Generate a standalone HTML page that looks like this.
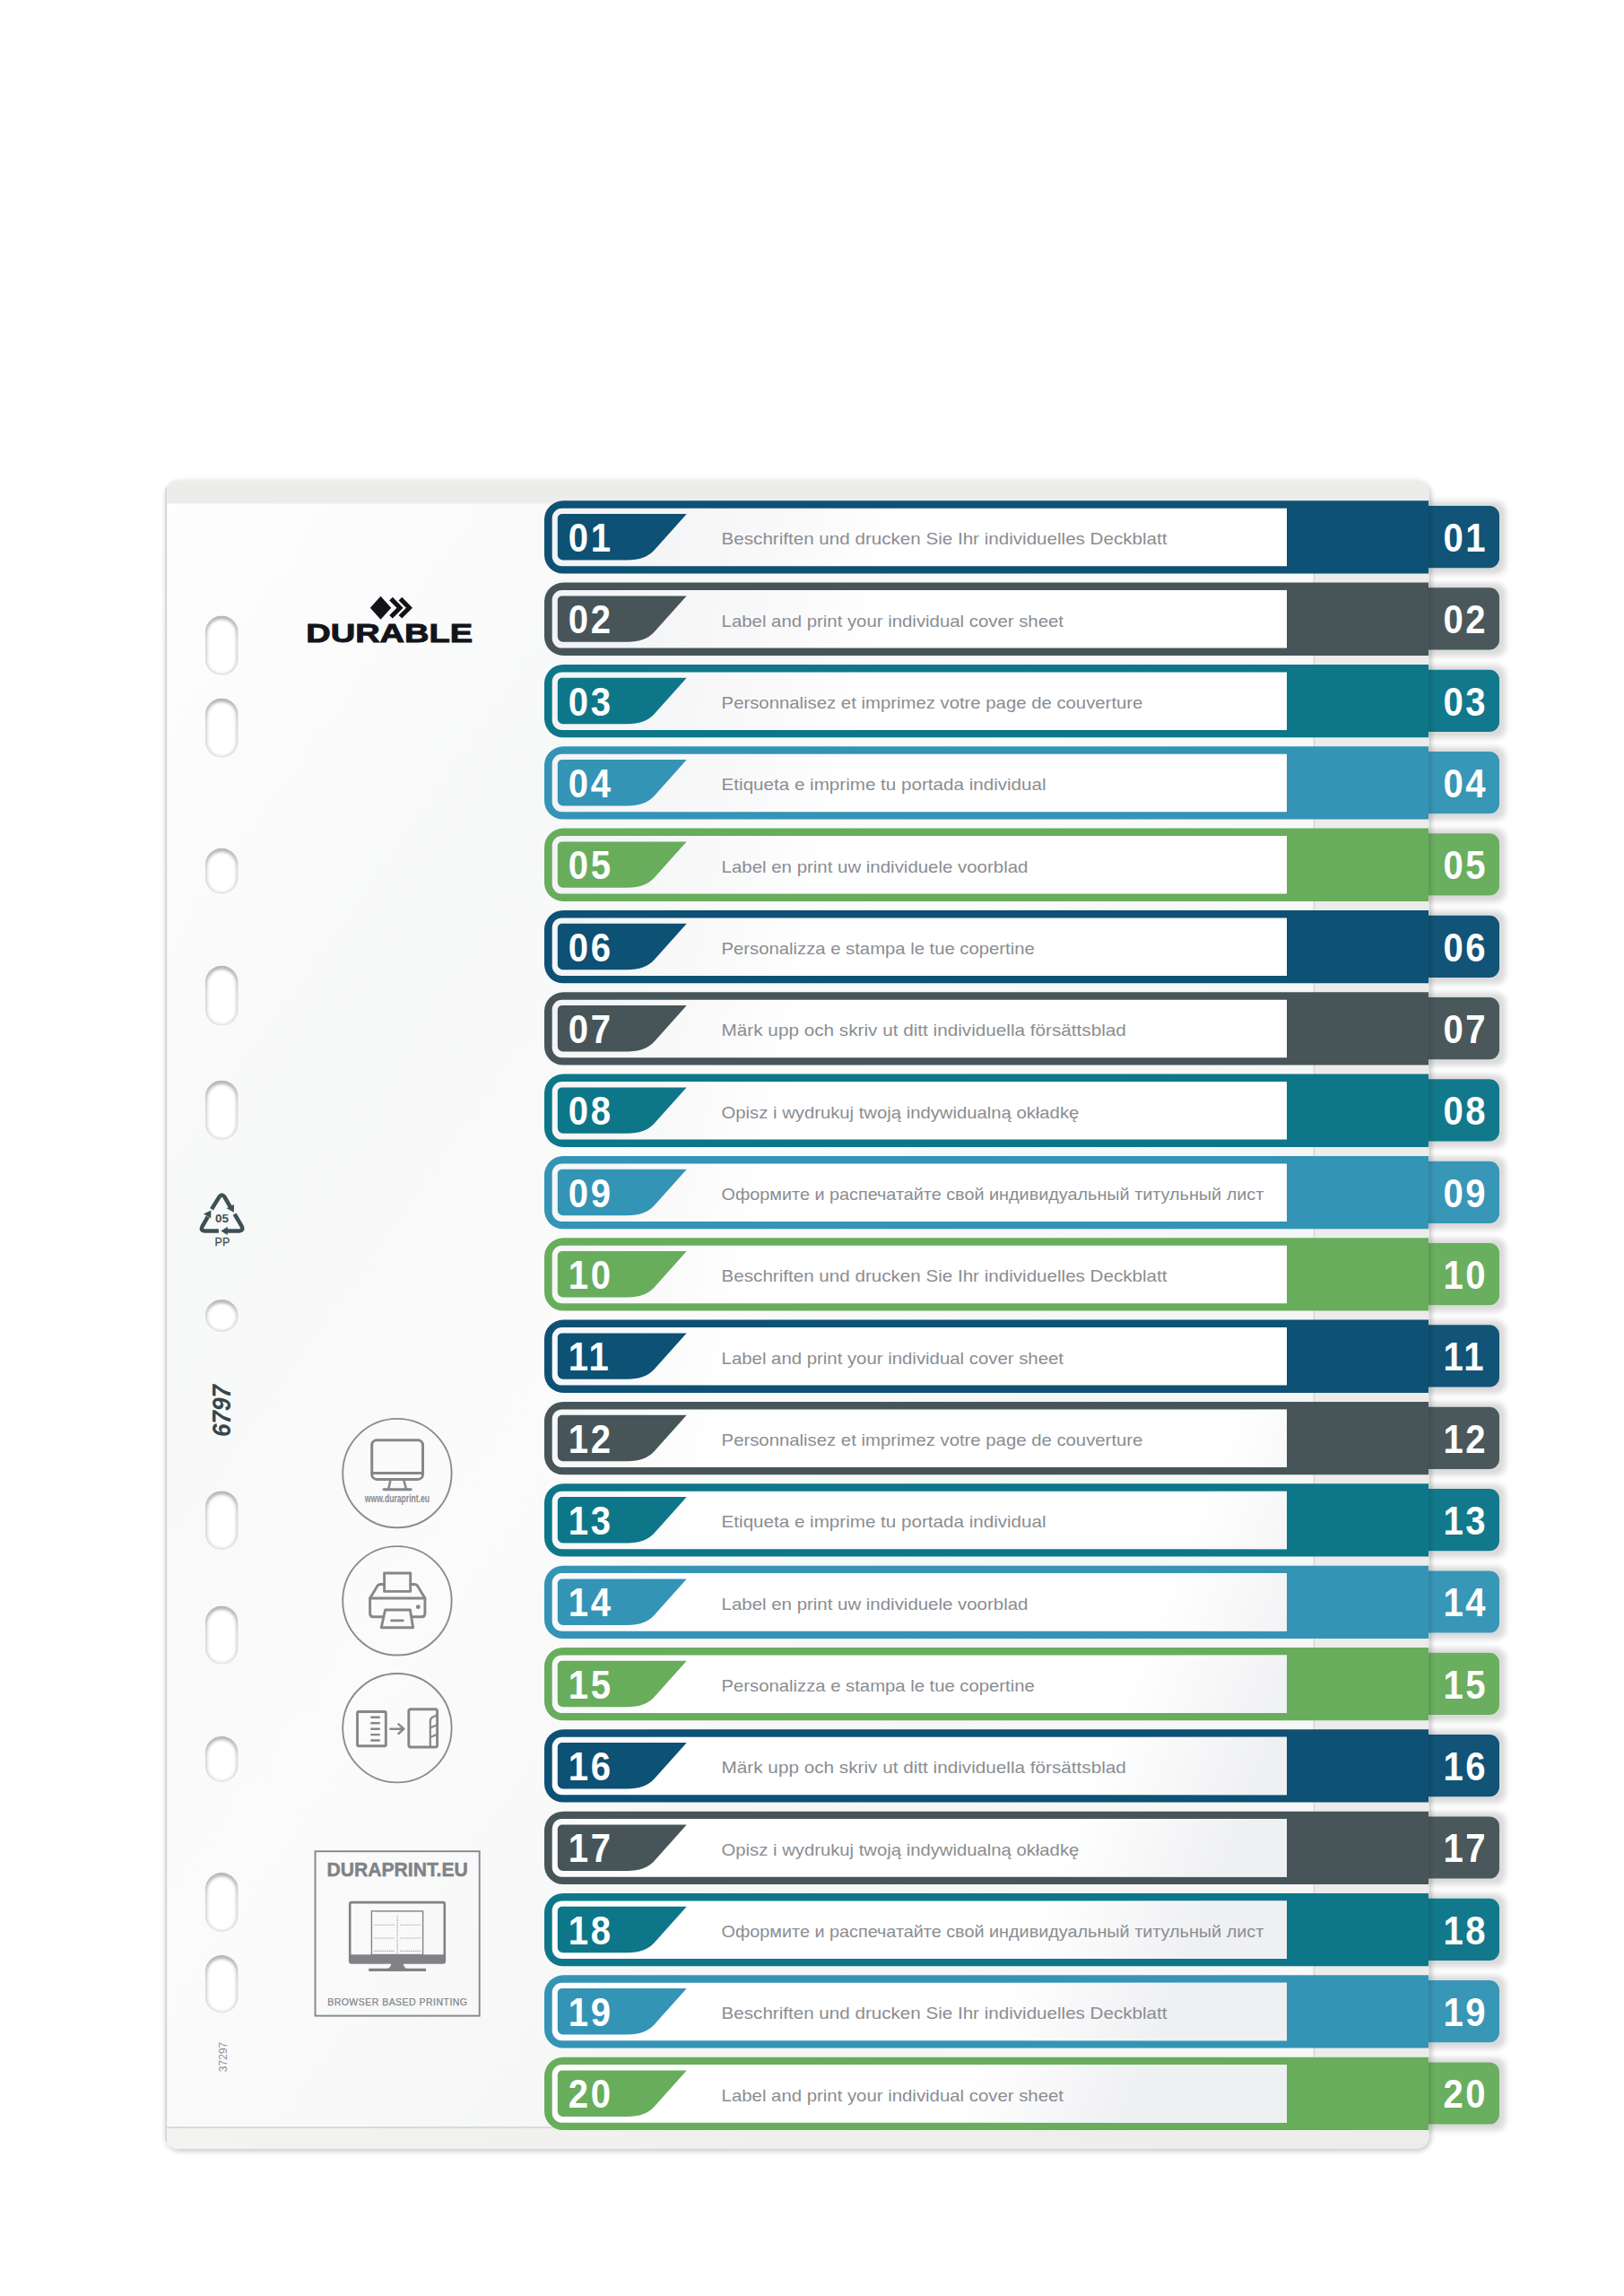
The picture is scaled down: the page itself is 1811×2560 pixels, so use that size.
<!DOCTYPE html>
<html lang="en">
<head>
<meta charset="utf-8">
<title>DURABLE index divider 6797 – DURAPRINT.EU</title>
<style>
html,body{margin:0;padding:0;background:#ffffff;}
body{width:1811px;height:2560px;overflow:hidden;}
svg{display:block;}
text{font-family:"Liberation Sans",sans-serif;}
.num{font-weight:700;font-size:44.5px;fill:#ffffff;}
.desc{font-size:18.2px;fill:#8a8d92;}
.ico{fill:none;stroke:#85878a;stroke-width:2.9;stroke-linejoin:round;stroke-linecap:round;}
</style>
</head>
<body>
<svg width="1811" height="2560" viewBox="0 0 1811 2560">
<defs>
  <filter id="shSheet" x="-5%" y="-5%" width="110%" height="110%">
    <feGaussianBlur in="SourceAlpha" stdDeviation="3.2"/>
    <feOffset dx="1.5" dy="1.5"/>
    <feComponentTransfer><feFuncA type="linear" slope="0.25"/></feComponentTransfer>
    <feMerge><feMergeNode/><feMergeNode in="SourceGraphic"/></feMerge>
  </filter>
  <filter id="shTab" x="-30%" y="-30%" width="160%" height="160%">
    <feMorphology in="SourceAlpha" operator="dilate" radius="5.5"/>
    <feGaussianBlur stdDeviation="3"/>
    <feOffset dx="0.8" dy="1.2"/>
    <feComponentTransfer><feFuncA type="linear" slope="0.15"/></feComponentTransfer>
    <feMerge><feMergeNode/><feMergeNode in="SourceGraphic"/></feMerge>
  </filter>
  <clipPath id="cTabs"><rect x="1593" y="400" width="200" height="2100"/></clipPath>
  <linearGradient id="gTabEdge" x1="0" y1="0" x2="1" y2="0">
    <stop offset="0" stop-color="#000000" stop-opacity="0.12"/>
    <stop offset="1" stop-color="#000000" stop-opacity="0"/>
  </linearGradient>
  <linearGradient id="gPage" x1="0" y1="0" x2="1" y2="1">
    <stop offset="0" stop-color="#fefefe"/>
    <stop offset="0.25" stop-color="#f7f8f8"/>
    <stop offset="0.45" stop-color="#fbfbfb"/>
    <stop offset="0.7" stop-color="#f5f6f6"/>
    <stop offset="1" stop-color="#f8f8f8"/>
  </linearGradient>
  <linearGradient id="gLabel" gradientUnits="userSpaceOnUse" x1="700" y1="0" x2="1853.8" y2="230.8">
    <stop offset="0" stop-color="#f1f2f3"/>
    <stop offset="0.10" stop-color="#f3f4f5"/>
    <stop offset="0.27" stop-color="#fafafb"/>
    <stop offset="0.35" stop-color="#ffffff"/>
    <stop offset="1" stop-color="#ffffff"/>
  </linearGradient>
  <linearGradient id="gSheen" gradientUnits="userSpaceOnUse" x1="1330" y1="1690" x2="1500" y2="1758">
    <stop offset="0" stop-color="#eff0f2" stop-opacity="0"/>
    <stop offset="1" stop-color="#eff0f2" stop-opacity="1"/>
  </linearGradient>
  <linearGradient id="gHole" x1="0" y1="0" x2="0" y2="1">
    <stop offset="0" stop-color="#b4b6b6"/>
    <stop offset="0.45" stop-color="#d4d5d5"/>
    <stop offset="1" stop-color="#dcdddd"/>
  </linearGradient>
  <linearGradient id="gEdge" x1="0" y1="0" x2="1" y2="0">
    <stop offset="0" stop-color="#e9e9e9"/>
    <stop offset="0.6" stop-color="#cfd0d0"/>
    <stop offset="1" stop-color="#f2f2f2"/>
  </linearGradient>
  <filter id="blHole" x="-30%" y="-30%" width="160%" height="160%"><feGaussianBlur stdDeviation="1.7"/></filter>
  <linearGradient id="gBot" x1="0" y1="0" x2="1" y2="0">
    <stop offset="0" stop-color="#f3f3f2"/><stop offset="0.5" stop-color="#efefee"/><stop offset="1" stop-color="#ececeb"/>
  </linearGradient>
  <clipPath id="cSheet"><rect x="183.5" y="535.5" width="1410" height="1860.5" rx="15" ry="15"/></clipPath>
</defs>

<g id="sheet">
<rect x="183.5" y="535.5" width="1410" height="1860.5" rx="15" ry="15" fill="#ececeb" filter="url(#shSheet)"/>
<rect x="186.2" y="561.5" width="1279.3" height="1810.5" fill="url(#gPage)"/>
<rect x="183.5" y="535.5" width="3" height="1860.5" fill="url(#gEdge)" clip-path="url(#cSheet)"/>
<rect x="186.2" y="2372" width="1407" height="24" fill="url(#gBot)" clip-path="url(#cSheet)"/>
<rect x="186.2" y="2371.2" width="1279.3" height="1.8" fill="#d6d7d7"/>
<rect x="1464.6" y="558" width="1.6" height="1814" fill="#d6d7d7"/>
</g>
<g id="holes">
<clipPath id="ch686"><rect x="228.8" y="686.5" width="36.8" height="66.3" rx="18.4" ry="18.4"/></clipPath><g clip-path="url(#ch686)"><rect x="228.8" y="686.5" width="36.8" height="66.3" fill="url(#gHole)"/><rect x="231.4" y="690.7" width="31.6" height="60.3" rx="15.8" ry="15.8" fill="#ffffff" filter="url(#blHole)"/></g>
<clipPath id="ch778"><rect x="228.8" y="778.5" width="36.8" height="66.2" rx="18.4" ry="18.4"/></clipPath><g clip-path="url(#ch778)"><rect x="228.8" y="778.5" width="36.8" height="66.2" fill="url(#gHole)"/><rect x="231.4" y="782.7" width="31.6" height="60.2" rx="15.8" ry="15.8" fill="#ffffff" filter="url(#blHole)"/></g>
<clipPath id="ch945"><rect x="228.8" y="945.8" width="36.8" height="50.9" rx="18.4" ry="18.4"/></clipPath><g clip-path="url(#ch945)"><rect x="228.8" y="945.8" width="36.8" height="50.9" fill="url(#gHole)"/><rect x="231.4" y="950.0" width="31.6" height="44.9" rx="15.8" ry="15.8" fill="#ffffff" filter="url(#blHole)"/></g>
<clipPath id="ch1076"><rect x="228.8" y="1076.8" width="36.8" height="66.9" rx="18.4" ry="18.4"/></clipPath><g clip-path="url(#ch1076)"><rect x="228.8" y="1076.8" width="36.8" height="66.9" fill="url(#gHole)"/><rect x="231.4" y="1081.0" width="31.6" height="60.9" rx="15.8" ry="15.8" fill="#ffffff" filter="url(#blHole)"/></g>
<clipPath id="ch1204"><rect x="228.8" y="1204.7" width="36.8" height="66.2" rx="18.4" ry="18.4"/></clipPath><g clip-path="url(#ch1204)"><rect x="228.8" y="1204.7" width="36.8" height="66.2" fill="url(#gHole)"/><rect x="231.4" y="1208.9" width="31.6" height="60.2" rx="15.8" ry="15.8" fill="#ffffff" filter="url(#blHole)"/></g>
<clipPath id="ch1449"><rect x="228.8" y="1449.0" width="36.8" height="36.0" rx="18.4" ry="18.4"/></clipPath><g clip-path="url(#ch1449)"><rect x="228.8" y="1449.0" width="36.8" height="36.0" fill="url(#gHole)"/><rect x="231.4" y="1453.2" width="31.6" height="30.0" rx="15.8" ry="15.8" fill="#ffffff" filter="url(#blHole)"/></g>
<clipPath id="ch1662"><rect x="228.8" y="1662.4" width="36.8" height="65.5" rx="18.4" ry="18.4"/></clipPath><g clip-path="url(#ch1662)"><rect x="228.8" y="1662.4" width="36.8" height="65.5" fill="url(#gHole)"/><rect x="231.4" y="1666.6" width="31.6" height="59.5" rx="15.8" ry="15.8" fill="#ffffff" filter="url(#blHole)"/></g>
<clipPath id="ch1790"><rect x="228.8" y="1790.6" width="36.8" height="65.1" rx="18.4" ry="18.4"/></clipPath><g clip-path="url(#ch1790)"><rect x="228.8" y="1790.6" width="36.8" height="65.1" fill="url(#gHole)"/><rect x="231.4" y="1794.8" width="31.6" height="59.1" rx="15.8" ry="15.8" fill="#ffffff" filter="url(#blHole)"/></g>
<clipPath id="ch1935"><rect x="228.8" y="1935.9" width="36.8" height="51.1" rx="18.4" ry="18.4"/></clipPath><g clip-path="url(#ch1935)"><rect x="228.8" y="1935.9" width="36.8" height="51.1" fill="url(#gHole)"/><rect x="231.4" y="1940.1" width="31.6" height="45.1" rx="15.8" ry="15.8" fill="#ffffff" filter="url(#blHole)"/></g>
<clipPath id="ch2088"><rect x="228.8" y="2088.0" width="36.8" height="66.0" rx="18.4" ry="18.4"/></clipPath><g clip-path="url(#ch2088)"><rect x="228.8" y="2088.0" width="36.8" height="66.0" fill="url(#gHole)"/><rect x="231.4" y="2092.2" width="31.6" height="60.0" rx="15.8" ry="15.8" fill="#ffffff" filter="url(#blHole)"/></g>
<clipPath id="ch2180"><rect x="228.8" y="2180.0" width="36.8" height="64.5" rx="18.4" ry="18.4"/></clipPath><g clip-path="url(#ch2180)"><rect x="228.8" y="2180.0" width="36.8" height="64.5" fill="url(#gHole)"/><rect x="231.4" y="2184.2" width="31.6" height="58.5" rx="15.8" ry="15.8" fill="#ffffff" filter="url(#blHole)"/></g>
</g>
<g id="tabs" clip-path="url(#cTabs)">
<path d="M1575 564.0 H1661.0 a11 11 0 0 1 11 11 V622.2 a11 11 0 0 1 -11 11 H1575 Z" fill="#0d5174" filter="url(#shTab)"/>
<path d="M1593 564.0 H1661.0 a11 11 0 0 1 11 11 V622.2 a11 11 0 0 1 -11 11 H1593 Z" fill="#ffffff" fill-opacity="0.018"/>
<rect x="1593" y="564.0" width="7" height="69.2" fill="url(#gTabEdge)"/>
<path d="M1575 655.3 H1661.0 a11 11 0 0 1 11 11 V713.5 a11 11 0 0 1 -11 11 H1575 Z" fill="#475559" filter="url(#shTab)"/>
<path d="M1593 655.3 H1661.0 a11 11 0 0 1 11 11 V713.5 a11 11 0 0 1 -11 11 H1593 Z" fill="#ffffff" fill-opacity="0.018"/>
<rect x="1593" y="655.3" width="7" height="69.2" fill="url(#gTabEdge)"/>
<path d="M1575 746.7 H1661.0 a11 11 0 0 1 11 11 V804.9 a11 11 0 0 1 -11 11 H1575 Z" fill="#0d7789" filter="url(#shTab)"/>
<path d="M1593 746.7 H1661.0 a11 11 0 0 1 11 11 V804.9 a11 11 0 0 1 -11 11 H1593 Z" fill="#ffffff" fill-opacity="0.018"/>
<rect x="1593" y="746.7" width="7" height="69.2" fill="url(#gTabEdge)"/>
<path d="M1575 838.0 H1661.0 a11 11 0 0 1 11 11 V896.2 a11 11 0 0 1 -11 11 H1575 Z" fill="#3494b6" filter="url(#shTab)"/>
<path d="M1593 838.0 H1661.0 a11 11 0 0 1 11 11 V896.2 a11 11 0 0 1 -11 11 H1593 Z" fill="#ffffff" fill-opacity="0.018"/>
<rect x="1593" y="838.0" width="7" height="69.2" fill="url(#gTabEdge)"/>
<path d="M1575 929.3 H1661.0 a11 11 0 0 1 11 11 V987.5 a11 11 0 0 1 -11 11 H1575 Z" fill="#68ad5c" filter="url(#shTab)"/>
<path d="M1593 929.3 H1661.0 a11 11 0 0 1 11 11 V987.5 a11 11 0 0 1 -11 11 H1593 Z" fill="#ffffff" fill-opacity="0.018"/>
<rect x="1593" y="929.3" width="7" height="69.2" fill="url(#gTabEdge)"/>
<path d="M1575 1020.7 H1661.0 a11 11 0 0 1 11 11 V1078.9 a11 11 0 0 1 -11 11 H1575 Z" fill="#0d5174" filter="url(#shTab)"/>
<path d="M1593 1020.7 H1661.0 a11 11 0 0 1 11 11 V1078.9 a11 11 0 0 1 -11 11 H1593 Z" fill="#ffffff" fill-opacity="0.018"/>
<rect x="1593" y="1020.7" width="7" height="69.2" fill="url(#gTabEdge)"/>
<path d="M1575 1112.0 H1661.0 a11 11 0 0 1 11 11 V1170.2 a11 11 0 0 1 -11 11 H1575 Z" fill="#475559" filter="url(#shTab)"/>
<path d="M1593 1112.0 H1661.0 a11 11 0 0 1 11 11 V1170.2 a11 11 0 0 1 -11 11 H1593 Z" fill="#ffffff" fill-opacity="0.018"/>
<rect x="1593" y="1112.0" width="7" height="69.2" fill="url(#gTabEdge)"/>
<path d="M1575 1203.3 H1661.0 a11 11 0 0 1 11 11 V1261.5 a11 11 0 0 1 -11 11 H1575 Z" fill="#0d7789" filter="url(#shTab)"/>
<path d="M1593 1203.3 H1661.0 a11 11 0 0 1 11 11 V1261.5 a11 11 0 0 1 -11 11 H1593 Z" fill="#ffffff" fill-opacity="0.018"/>
<rect x="1593" y="1203.3" width="7" height="69.2" fill="url(#gTabEdge)"/>
<path d="M1575 1294.7 H1661.0 a11 11 0 0 1 11 11 V1352.9 a11 11 0 0 1 -11 11 H1575 Z" fill="#3494b6" filter="url(#shTab)"/>
<path d="M1593 1294.7 H1661.0 a11 11 0 0 1 11 11 V1352.9 a11 11 0 0 1 -11 11 H1593 Z" fill="#ffffff" fill-opacity="0.018"/>
<rect x="1593" y="1294.7" width="7" height="69.2" fill="url(#gTabEdge)"/>
<path d="M1575 1386.0 H1661.0 a11 11 0 0 1 11 11 V1444.2 a11 11 0 0 1 -11 11 H1575 Z" fill="#68ad5c" filter="url(#shTab)"/>
<path d="M1593 1386.0 H1661.0 a11 11 0 0 1 11 11 V1444.2 a11 11 0 0 1 -11 11 H1593 Z" fill="#ffffff" fill-opacity="0.018"/>
<rect x="1593" y="1386.0" width="7" height="69.2" fill="url(#gTabEdge)"/>
<path d="M1575 1477.3 H1661.0 a11 11 0 0 1 11 11 V1535.5 a11 11 0 0 1 -11 11 H1575 Z" fill="#0d5174" filter="url(#shTab)"/>
<path d="M1593 1477.3 H1661.0 a11 11 0 0 1 11 11 V1535.5 a11 11 0 0 1 -11 11 H1593 Z" fill="#ffffff" fill-opacity="0.018"/>
<rect x="1593" y="1477.3" width="7" height="69.2" fill="url(#gTabEdge)"/>
<path d="M1575 1568.7 H1661.0 a11 11 0 0 1 11 11 V1626.9 a11 11 0 0 1 -11 11 H1575 Z" fill="#475559" filter="url(#shTab)"/>
<path d="M1593 1568.7 H1661.0 a11 11 0 0 1 11 11 V1626.9 a11 11 0 0 1 -11 11 H1593 Z" fill="#ffffff" fill-opacity="0.018"/>
<rect x="1593" y="1568.7" width="7" height="69.2" fill="url(#gTabEdge)"/>
<path d="M1575 1660.0 H1661.0 a11 11 0 0 1 11 11 V1718.2 a11 11 0 0 1 -11 11 H1575 Z" fill="#0d7789" filter="url(#shTab)"/>
<path d="M1593 1660.0 H1661.0 a11 11 0 0 1 11 11 V1718.2 a11 11 0 0 1 -11 11 H1593 Z" fill="#ffffff" fill-opacity="0.018"/>
<rect x="1593" y="1660.0" width="7" height="69.2" fill="url(#gTabEdge)"/>
<path d="M1575 1751.4 H1661.0 a11 11 0 0 1 11 11 V1809.6 a11 11 0 0 1 -11 11 H1575 Z" fill="#3494b6" filter="url(#shTab)"/>
<path d="M1593 1751.4 H1661.0 a11 11 0 0 1 11 11 V1809.6 a11 11 0 0 1 -11 11 H1593 Z" fill="#ffffff" fill-opacity="0.018"/>
<rect x="1593" y="1751.4" width="7" height="69.2" fill="url(#gTabEdge)"/>
<path d="M1575 1842.7 H1661.0 a11 11 0 0 1 11 11 V1900.9 a11 11 0 0 1 -11 11 H1575 Z" fill="#68ad5c" filter="url(#shTab)"/>
<path d="M1593 1842.7 H1661.0 a11 11 0 0 1 11 11 V1900.9 a11 11 0 0 1 -11 11 H1593 Z" fill="#ffffff" fill-opacity="0.018"/>
<rect x="1593" y="1842.7" width="7" height="69.2" fill="url(#gTabEdge)"/>
<path d="M1575 1934.0 H1661.0 a11 11 0 0 1 11 11 V1992.2 a11 11 0 0 1 -11 11 H1575 Z" fill="#0d5174" filter="url(#shTab)"/>
<path d="M1593 1934.0 H1661.0 a11 11 0 0 1 11 11 V1992.2 a11 11 0 0 1 -11 11 H1593 Z" fill="#ffffff" fill-opacity="0.018"/>
<rect x="1593" y="1934.0" width="7" height="69.2" fill="url(#gTabEdge)"/>
<path d="M1575 2025.4 H1661.0 a11 11 0 0 1 11 11 V2083.6 a11 11 0 0 1 -11 11 H1575 Z" fill="#475559" filter="url(#shTab)"/>
<path d="M1593 2025.4 H1661.0 a11 11 0 0 1 11 11 V2083.6 a11 11 0 0 1 -11 11 H1593 Z" fill="#ffffff" fill-opacity="0.018"/>
<rect x="1593" y="2025.4" width="7" height="69.2" fill="url(#gTabEdge)"/>
<path d="M1575 2116.7 H1661.0 a11 11 0 0 1 11 11 V2174.9 a11 11 0 0 1 -11 11 H1575 Z" fill="#0d7789" filter="url(#shTab)"/>
<path d="M1593 2116.7 H1661.0 a11 11 0 0 1 11 11 V2174.9 a11 11 0 0 1 -11 11 H1593 Z" fill="#ffffff" fill-opacity="0.018"/>
<rect x="1593" y="2116.7" width="7" height="69.2" fill="url(#gTabEdge)"/>
<path d="M1575 2208.0 H1661.0 a11 11 0 0 1 11 11 V2266.2 a11 11 0 0 1 -11 11 H1575 Z" fill="#3494b6" filter="url(#shTab)"/>
<path d="M1593 2208.0 H1661.0 a11 11 0 0 1 11 11 V2266.2 a11 11 0 0 1 -11 11 H1593 Z" fill="#ffffff" fill-opacity="0.018"/>
<rect x="1593" y="2208.0" width="7" height="69.2" fill="url(#gTabEdge)"/>
<path d="M1575 2299.4 H1661.0 a11 11 0 0 1 11 11 V2357.6 a11 11 0 0 1 -11 11 H1575 Z" fill="#68ad5c" filter="url(#shTab)"/>
<path d="M1593 2299.4 H1661.0 a11 11 0 0 1 11 11 V2357.6 a11 11 0 0 1 -11 11 H1593 Z" fill="#ffffff" fill-opacity="0.018"/>
<rect x="1593" y="2299.4" width="7" height="69.2" fill="url(#gTabEdge)"/>
</g>
<g id="rows">
<g id="row01">
<path d="M628.0 558.3 H1593.0 V639.6 H628.0 a21 21 0 0 1 -21 -21 V579.3 a21 21 0 0 1 21 -21 Z" fill="#0d5174"/>
<path d="M626.7 566.7 H1435.0 V631.3 H626.7 a11 11 0 0 1 -11 -11 V577.7 a11 11 0 0 1 11 -11 Z" fill="url(#gLabel)"/>
<path d="M626.8 573.1 H765.7 L729.5 613.5 Q719.5 624.5 699.5 624.5 H627.8 a6 6 0 0 1 -6 -6 V578.1 a5 5 0 0 1 5 -5 Z" fill="#0d5174"/>
<text class="num" transform="translate(633.8 615.0) scale(0.9 1)" letter-spacing="3">01</text>
<text class="desc" x="804.6" y="607.2" textLength="496.9" lengthAdjust="spacingAndGlyphs">Beschriften und drucken Sie Ihr individuelles Deckblatt</text>
<text class="num" transform="translate(1609.4 615.0) scale(0.9 1)" letter-spacing="3">01</text>
</g>
<g id="row02">
<path d="M628.0 649.6 H1593.0 V730.9 H628.0 a21 21 0 0 1 -21 -21 V670.6 a21 21 0 0 1 21 -21 Z" fill="#475559"/>
<path d="M626.7 658.0 H1435.0 V722.6 H626.7 a11 11 0 0 1 -11 -11 V669.0 a11 11 0 0 1 11 -11 Z" fill="url(#gLabel)"/>
<path d="M626.8 664.4 H765.7 L729.5 704.8 Q719.5 715.8 699.5 715.8 H627.8 a6 6 0 0 1 -6 -6 V669.4 a5 5 0 0 1 5 -5 Z" fill="#475559"/>
<text class="num" transform="translate(633.8 706.3) scale(0.9 1)" letter-spacing="3">02</text>
<text class="desc" x="804.6" y="698.5" textLength="381.4" lengthAdjust="spacingAndGlyphs">Label and print your individual cover sheet</text>
<text class="num" transform="translate(1609.4 706.3) scale(0.9 1)" letter-spacing="3">02</text>
</g>
<g id="row03">
<path d="M628.0 741.0 H1593.0 V822.3 H628.0 a21 21 0 0 1 -21 -21 V762.0 a21 21 0 0 1 21 -21 Z" fill="#0d7789"/>
<path d="M626.7 749.4 H1435.0 V814.0 H626.7 a11 11 0 0 1 -11 -11 V760.4 a11 11 0 0 1 11 -11 Z" fill="url(#gLabel)"/>
<path d="M626.8 755.8 H765.7 L729.5 796.2 Q719.5 807.2 699.5 807.2 H627.8 a6 6 0 0 1 -6 -6 V760.8 a5 5 0 0 1 5 -5 Z" fill="#0d7789"/>
<text class="num" transform="translate(633.8 797.7) scale(0.9 1)" letter-spacing="3">03</text>
<text class="desc" x="804.6" y="789.9" textLength="469.8" lengthAdjust="spacingAndGlyphs">Personnalisez et imprimez votre page de couverture</text>
<text class="num" transform="translate(1609.4 797.7) scale(0.9 1)" letter-spacing="3">03</text>
</g>
<g id="row04">
<path d="M628.0 832.3 H1593.0 V913.6 H628.0 a21 21 0 0 1 -21 -21 V853.3 a21 21 0 0 1 21 -21 Z" fill="#3494b6"/>
<path d="M626.7 840.7 H1435.0 V905.3 H626.7 a11 11 0 0 1 -11 -11 V851.7 a11 11 0 0 1 11 -11 Z" fill="url(#gLabel)"/>
<path d="M626.8 847.1 H765.7 L729.5 887.5 Q719.5 898.5 699.5 898.5 H627.8 a6 6 0 0 1 -6 -6 V852.1 a5 5 0 0 1 5 -5 Z" fill="#3494b6"/>
<text class="num" transform="translate(633.8 889.0) scale(0.9 1)" letter-spacing="3">04</text>
<text class="desc" x="804.6" y="881.2" textLength="362.0" lengthAdjust="spacingAndGlyphs">Etiqueta e imprime tu portada individual</text>
<text class="num" transform="translate(1609.4 889.0) scale(0.9 1)" letter-spacing="3">04</text>
</g>
<g id="row05">
<path d="M628.0 923.6 H1593.0 V1004.9 H628.0 a21 21 0 0 1 -21 -21 V944.6 a21 21 0 0 1 21 -21 Z" fill="#68ad5c"/>
<path d="M626.7 932.0 H1435.0 V996.6 H626.7 a11 11 0 0 1 -11 -11 V943.0 a11 11 0 0 1 11 -11 Z" fill="url(#gLabel)"/>
<path d="M626.8 938.4 H765.7 L729.5 978.8 Q719.5 989.8 699.5 989.8 H627.8 a6 6 0 0 1 -6 -6 V943.4 a5 5 0 0 1 5 -5 Z" fill="#68ad5c"/>
<text class="num" transform="translate(633.8 980.3) scale(0.9 1)" letter-spacing="3">05</text>
<text class="desc" x="804.6" y="972.5" textLength="341.8" lengthAdjust="spacingAndGlyphs">Label en print uw individuele voorblad</text>
<text class="num" transform="translate(1609.4 980.3) scale(0.9 1)" letter-spacing="3">05</text>
</g>
<g id="row06">
<path d="M628.0 1015.0 H1593.0 V1096.3 H628.0 a21 21 0 0 1 -21 -21 V1036.0 a21 21 0 0 1 21 -21 Z" fill="#0d5174"/>
<path d="M626.7 1023.4 H1435.0 V1088.0 H626.7 a11 11 0 0 1 -11 -11 V1034.4 a11 11 0 0 1 11 -11 Z" fill="url(#gLabel)"/>
<path d="M626.8 1029.8 H765.7 L729.5 1070.2 Q719.5 1081.2 699.5 1081.2 H627.8 a6 6 0 0 1 -6 -6 V1034.8 a5 5 0 0 1 5 -5 Z" fill="#0d5174"/>
<text class="num" transform="translate(633.8 1071.7) scale(0.9 1)" letter-spacing="3">06</text>
<text class="desc" x="804.6" y="1063.9" textLength="349.1" lengthAdjust="spacingAndGlyphs">Personalizza e stampa le tue copertine</text>
<text class="num" transform="translate(1609.4 1071.7) scale(0.9 1)" letter-spacing="3">06</text>
</g>
<g id="row07">
<path d="M628.0 1106.3 H1593.0 V1187.6 H628.0 a21 21 0 0 1 -21 -21 V1127.3 a21 21 0 0 1 21 -21 Z" fill="#475559"/>
<path d="M626.7 1114.7 H1435.0 V1179.3 H626.7 a11 11 0 0 1 -11 -11 V1125.7 a11 11 0 0 1 11 -11 Z" fill="url(#gLabel)"/>
<path d="M626.8 1121.1 H765.7 L729.5 1161.5 Q719.5 1172.5 699.5 1172.5 H627.8 a6 6 0 0 1 -6 -6 V1126.1 a5 5 0 0 1 5 -5 Z" fill="#475559"/>
<text class="num" transform="translate(633.8 1163.0) scale(0.9 1)" letter-spacing="3">07</text>
<text class="desc" x="804.6" y="1155.2" textLength="451.3" lengthAdjust="spacingAndGlyphs">Märk upp och skriv ut ditt individuella försättsblad</text>
<text class="num" transform="translate(1609.4 1163.0) scale(0.9 1)" letter-spacing="3">07</text>
</g>
<g id="row08">
<path d="M628.0 1197.6 H1593.0 V1278.9 H628.0 a21 21 0 0 1 -21 -21 V1218.6 a21 21 0 0 1 21 -21 Z" fill="#0d7789"/>
<path d="M626.7 1206.0 H1435.0 V1270.6 H626.7 a11 11 0 0 1 -11 -11 V1217.0 a11 11 0 0 1 11 -11 Z" fill="url(#gLabel)"/>
<path d="M626.8 1212.4 H765.7 L729.5 1252.8 Q719.5 1263.8 699.5 1263.8 H627.8 a6 6 0 0 1 -6 -6 V1217.4 a5 5 0 0 1 5 -5 Z" fill="#0d7789"/>
<text class="num" transform="translate(633.8 1254.3) scale(0.9 1)" letter-spacing="3">08</text>
<text class="desc" x="804.6" y="1246.5" textLength="398.7" lengthAdjust="spacingAndGlyphs">Opisz i wydrukuj twoją indywidualną okładkę</text>
<text class="num" transform="translate(1609.4 1254.3) scale(0.9 1)" letter-spacing="3">08</text>
</g>
<g id="row09">
<path d="M628.0 1289.0 H1593.0 V1370.3 H628.0 a21 21 0 0 1 -21 -21 V1310.0 a21 21 0 0 1 21 -21 Z" fill="#3494b6"/>
<path d="M626.7 1297.4 H1435.0 V1362.0 H626.7 a11 11 0 0 1 -11 -11 V1308.4 a11 11 0 0 1 11 -11 Z" fill="url(#gLabel)"/>
<path d="M626.8 1303.8 H765.7 L729.5 1344.2 Q719.5 1355.2 699.5 1355.2 H627.8 a6 6 0 0 1 -6 -6 V1308.8 a5 5 0 0 1 5 -5 Z" fill="#3494b6"/>
<text class="num" transform="translate(633.8 1345.7) scale(0.9 1)" letter-spacing="3">09</text>
<text class="desc" x="804.6" y="1337.9" textLength="604.7" lengthAdjust="spacingAndGlyphs">Оформите и распечатайте свой индивидуальный титульный лист</text>
<text class="num" transform="translate(1609.4 1345.7) scale(0.9 1)" letter-spacing="3">09</text>
</g>
<g id="row10">
<path d="M628.0 1380.3 H1593.0 V1461.6 H628.0 a21 21 0 0 1 -21 -21 V1401.3 a21 21 0 0 1 21 -21 Z" fill="#68ad5c"/>
<path d="M626.7 1388.7 H1435.0 V1453.3 H626.7 a11 11 0 0 1 -11 -11 V1399.7 a11 11 0 0 1 11 -11 Z" fill="url(#gLabel)"/>
<path d="M626.8 1395.1 H765.7 L729.5 1435.5 Q719.5 1446.5 699.5 1446.5 H627.8 a6 6 0 0 1 -6 -6 V1400.1 a5 5 0 0 1 5 -5 Z" fill="#68ad5c"/>
<text class="num" transform="translate(633.8 1437.0) scale(0.9 1)" letter-spacing="3">10</text>
<text class="desc" x="804.6" y="1429.2" textLength="496.9" lengthAdjust="spacingAndGlyphs">Beschriften und drucken Sie Ihr individuelles Deckblatt</text>
<text class="num" transform="translate(1609.4 1437.0) scale(0.9 1)" letter-spacing="3">10</text>
</g>
<g id="row11">
<path d="M628.0 1471.6 H1593.0 V1552.9 H628.0 a21 21 0 0 1 -21 -21 V1492.6 a21 21 0 0 1 21 -21 Z" fill="#0d5174"/>
<path d="M626.7 1480.0 H1435.0 V1544.6 H626.7 a11 11 0 0 1 -11 -11 V1491.0 a11 11 0 0 1 11 -11 Z" fill="url(#gLabel)"/>
<path d="M626.8 1486.4 H765.7 L729.5 1526.8 Q719.5 1537.8 699.5 1537.8 H627.8 a6 6 0 0 1 -6 -6 V1491.4 a5 5 0 0 1 5 -5 Z" fill="#0d5174"/>
<text class="num" transform="translate(633.8 1528.3) scale(0.9 1)" letter-spacing="3">11</text>
<text class="desc" x="804.6" y="1520.5" textLength="381.4" lengthAdjust="spacingAndGlyphs">Label and print your individual cover sheet</text>
<text class="num" transform="translate(1609.4 1528.3) scale(0.9 1)" letter-spacing="3">11</text>
</g>
<g id="row12">
<path d="M628.0 1563.0 H1593.0 V1644.3 H628.0 a21 21 0 0 1 -21 -21 V1584.0 a21 21 0 0 1 21 -21 Z" fill="#475559"/>
<path d="M626.7 1571.4 H1435.0 V1636.0 H626.7 a11 11 0 0 1 -11 -11 V1582.4 a11 11 0 0 1 11 -11 Z" fill="url(#gLabel)"/>
<path d="M626.7 1571.4 H1435.0 V1636.0 H626.7 a11 11 0 0 1 -11 -11 V1582.4 a11 11 0 0 1 11 -11 Z" fill="url(#gSheen)"/>
<path d="M626.8 1577.8 H765.7 L729.5 1618.2 Q719.5 1629.2 699.5 1629.2 H627.8 a6 6 0 0 1 -6 -6 V1582.8 a5 5 0 0 1 5 -5 Z" fill="#475559"/>
<text class="num" transform="translate(633.8 1619.7) scale(0.9 1)" letter-spacing="3">12</text>
<text class="desc" x="804.6" y="1611.9" textLength="469.8" lengthAdjust="spacingAndGlyphs">Personnalisez et imprimez votre page de couverture</text>
<text class="num" transform="translate(1609.4 1619.7) scale(0.9 1)" letter-spacing="3">12</text>
</g>
<g id="row13">
<path d="M628.0 1654.3 H1593.0 V1735.6 H628.0 a21 21 0 0 1 -21 -21 V1675.3 a21 21 0 0 1 21 -21 Z" fill="#0d7789"/>
<path d="M626.7 1662.7 H1435.0 V1727.3 H626.7 a11 11 0 0 1 -11 -11 V1673.7 a11 11 0 0 1 11 -11 Z" fill="url(#gLabel)"/>
<path d="M626.7 1662.7 H1435.0 V1727.3 H626.7 a11 11 0 0 1 -11 -11 V1673.7 a11 11 0 0 1 11 -11 Z" fill="url(#gSheen)"/>
<path d="M626.8 1669.1 H765.7 L729.5 1709.5 Q719.5 1720.5 699.5 1720.5 H627.8 a6 6 0 0 1 -6 -6 V1674.1 a5 5 0 0 1 5 -5 Z" fill="#0d7789"/>
<text class="num" transform="translate(633.8 1711.0) scale(0.9 1)" letter-spacing="3">13</text>
<text class="desc" x="804.6" y="1703.2" textLength="362.0" lengthAdjust="spacingAndGlyphs">Etiqueta e imprime tu portada individual</text>
<text class="num" transform="translate(1609.4 1711.0) scale(0.9 1)" letter-spacing="3">13</text>
</g>
<g id="row14">
<path d="M628.0 1745.7 H1593.0 V1827.0 H628.0 a21 21 0 0 1 -21 -21 V1766.7 a21 21 0 0 1 21 -21 Z" fill="#3494b6"/>
<path d="M626.7 1754.1 H1435.0 V1818.7 H626.7 a11 11 0 0 1 -11 -11 V1765.1 a11 11 0 0 1 11 -11 Z" fill="url(#gLabel)"/>
<path d="M626.7 1754.1 H1435.0 V1818.7 H626.7 a11 11 0 0 1 -11 -11 V1765.1 a11 11 0 0 1 11 -11 Z" fill="url(#gSheen)"/>
<path d="M626.8 1760.5 H765.7 L729.5 1800.9 Q719.5 1811.9 699.5 1811.9 H627.8 a6 6 0 0 1 -6 -6 V1765.5 a5 5 0 0 1 5 -5 Z" fill="#3494b6"/>
<text class="num" transform="translate(633.8 1802.4) scale(0.9 1)" letter-spacing="3">14</text>
<text class="desc" x="804.6" y="1794.6" textLength="341.8" lengthAdjust="spacingAndGlyphs">Label en print uw individuele voorblad</text>
<text class="num" transform="translate(1609.4 1802.4) scale(0.9 1)" letter-spacing="3">14</text>
</g>
<g id="row15">
<path d="M628.0 1837.0 H1593.0 V1918.3 H628.0 a21 21 0 0 1 -21 -21 V1858.0 a21 21 0 0 1 21 -21 Z" fill="#68ad5c"/>
<path d="M626.7 1845.4 H1435.0 V1910.0 H626.7 a11 11 0 0 1 -11 -11 V1856.4 a11 11 0 0 1 11 -11 Z" fill="url(#gLabel)"/>
<path d="M626.7 1845.4 H1435.0 V1910.0 H626.7 a11 11 0 0 1 -11 -11 V1856.4 a11 11 0 0 1 11 -11 Z" fill="url(#gSheen)"/>
<path d="M626.8 1851.8 H765.7 L729.5 1892.2 Q719.5 1903.2 699.5 1903.2 H627.8 a6 6 0 0 1 -6 -6 V1856.8 a5 5 0 0 1 5 -5 Z" fill="#68ad5c"/>
<text class="num" transform="translate(633.8 1893.7) scale(0.9 1)" letter-spacing="3">15</text>
<text class="desc" x="804.6" y="1885.9" textLength="349.1" lengthAdjust="spacingAndGlyphs">Personalizza e stampa le tue copertine</text>
<text class="num" transform="translate(1609.4 1893.7) scale(0.9 1)" letter-spacing="3">15</text>
</g>
<g id="row16">
<path d="M628.0 1928.3 H1593.0 V2009.6 H628.0 a21 21 0 0 1 -21 -21 V1949.3 a21 21 0 0 1 21 -21 Z" fill="#0d5174"/>
<path d="M626.7 1936.7 H1435.0 V2001.3 H626.7 a11 11 0 0 1 -11 -11 V1947.7 a11 11 0 0 1 11 -11 Z" fill="url(#gLabel)"/>
<path d="M626.7 1936.7 H1435.0 V2001.3 H626.7 a11 11 0 0 1 -11 -11 V1947.7 a11 11 0 0 1 11 -11 Z" fill="url(#gSheen)"/>
<path d="M626.8 1943.1 H765.7 L729.5 1983.5 Q719.5 1994.5 699.5 1994.5 H627.8 a6 6 0 0 1 -6 -6 V1948.1 a5 5 0 0 1 5 -5 Z" fill="#0d5174"/>
<text class="num" transform="translate(633.8 1985.0) scale(0.9 1)" letter-spacing="3">16</text>
<text class="desc" x="804.6" y="1977.2" textLength="451.3" lengthAdjust="spacingAndGlyphs">Märk upp och skriv ut ditt individuella försättsblad</text>
<text class="num" transform="translate(1609.4 1985.0) scale(0.9 1)" letter-spacing="3">16</text>
</g>
<g id="row17">
<path d="M628.0 2019.7 H1593.0 V2101.0 H628.0 a21 21 0 0 1 -21 -21 V2040.7 a21 21 0 0 1 21 -21 Z" fill="#475559"/>
<path d="M626.7 2028.1 H1435.0 V2092.7 H626.7 a11 11 0 0 1 -11 -11 V2039.1 a11 11 0 0 1 11 -11 Z" fill="url(#gLabel)"/>
<path d="M626.7 2028.1 H1435.0 V2092.7 H626.7 a11 11 0 0 1 -11 -11 V2039.1 a11 11 0 0 1 11 -11 Z" fill="url(#gSheen)"/>
<path d="M626.8 2034.5 H765.7 L729.5 2074.9 Q719.5 2085.9 699.5 2085.9 H627.8 a6 6 0 0 1 -6 -6 V2039.5 a5 5 0 0 1 5 -5 Z" fill="#475559"/>
<text class="num" transform="translate(633.8 2076.4) scale(0.9 1)" letter-spacing="3">17</text>
<text class="desc" x="804.6" y="2068.6" textLength="398.7" lengthAdjust="spacingAndGlyphs">Opisz i wydrukuj twoją indywidualną okładkę</text>
<text class="num" transform="translate(1609.4 2076.4) scale(0.9 1)" letter-spacing="3">17</text>
</g>
<g id="row18">
<path d="M628.0 2111.0 H1593.0 V2192.3 H628.0 a21 21 0 0 1 -21 -21 V2132.0 a21 21 0 0 1 21 -21 Z" fill="#0d7789"/>
<path d="M626.7 2119.4 H1435.0 V2184.0 H626.7 a11 11 0 0 1 -11 -11 V2130.4 a11 11 0 0 1 11 -11 Z" fill="url(#gLabel)"/>
<path d="M626.7 2119.4 H1435.0 V2184.0 H626.7 a11 11 0 0 1 -11 -11 V2130.4 a11 11 0 0 1 11 -11 Z" fill="url(#gSheen)"/>
<path d="M626.8 2125.8 H765.7 L729.5 2166.2 Q719.5 2177.2 699.5 2177.2 H627.8 a6 6 0 0 1 -6 -6 V2130.8 a5 5 0 0 1 5 -5 Z" fill="#0d7789"/>
<text class="num" transform="translate(633.8 2167.7) scale(0.9 1)" letter-spacing="3">18</text>
<text class="desc" x="804.6" y="2159.9" textLength="604.7" lengthAdjust="spacingAndGlyphs">Оформите и распечатайте свой индивидуальный титульный лист</text>
<text class="num" transform="translate(1609.4 2167.7) scale(0.9 1)" letter-spacing="3">18</text>
</g>
<g id="row19">
<path d="M628.0 2202.3 H1593.0 V2283.6 H628.0 a21 21 0 0 1 -21 -21 V2223.3 a21 21 0 0 1 21 -21 Z" fill="#3494b6"/>
<path d="M626.7 2210.7 H1435.0 V2275.3 H626.7 a11 11 0 0 1 -11 -11 V2221.7 a11 11 0 0 1 11 -11 Z" fill="url(#gLabel)"/>
<path d="M626.7 2210.7 H1435.0 V2275.3 H626.7 a11 11 0 0 1 -11 -11 V2221.7 a11 11 0 0 1 11 -11 Z" fill="url(#gSheen)"/>
<path d="M626.8 2217.1 H765.7 L729.5 2257.5 Q719.5 2268.5 699.5 2268.5 H627.8 a6 6 0 0 1 -6 -6 V2222.1 a5 5 0 0 1 5 -5 Z" fill="#3494b6"/>
<text class="num" transform="translate(633.8 2259.0) scale(0.9 1)" letter-spacing="3">19</text>
<text class="desc" x="804.6" y="2251.2" textLength="496.9" lengthAdjust="spacingAndGlyphs">Beschriften und drucken Sie Ihr individuelles Deckblatt</text>
<text class="num" transform="translate(1609.4 2259.0) scale(0.9 1)" letter-spacing="3">19</text>
</g>
<g id="row20">
<path d="M628.0 2293.7 H1593.0 V2375.0 H628.0 a21 21 0 0 1 -21 -21 V2314.7 a21 21 0 0 1 21 -21 Z" fill="#68ad5c"/>
<path d="M626.7 2302.1 H1435.0 V2366.7 H626.7 a11 11 0 0 1 -11 -11 V2313.1 a11 11 0 0 1 11 -11 Z" fill="url(#gLabel)"/>
<path d="M626.7 2302.1 H1435.0 V2366.7 H626.7 a11 11 0 0 1 -11 -11 V2313.1 a11 11 0 0 1 11 -11 Z" fill="url(#gSheen)"/>
<path d="M626.8 2308.5 H765.7 L729.5 2348.9 Q719.5 2359.9 699.5 2359.9 H627.8 a6 6 0 0 1 -6 -6 V2313.5 a5 5 0 0 1 5 -5 Z" fill="#68ad5c"/>
<text class="num" transform="translate(633.8 2350.4) scale(0.9 1)" letter-spacing="3">20</text>
<text class="desc" x="804.6" y="2342.6" textLength="381.4" lengthAdjust="spacingAndGlyphs">Label and print your individual cover sheet</text>
<text class="num" transform="translate(1609.4 2350.4) scale(0.9 1)" letter-spacing="3">20</text>
</g>
</g>
<g id="logo" fill="#121419">
<path d="M424.5 664.8 L436.2 677.8 L424.5 690.8 L412.8 677.8 Z"/>
<path d="M436 667.6 L446 677.7 L436 687.8" fill="none" stroke="#121419" stroke-width="5.1" stroke-linejoin="miter" stroke-miterlimit="6"/>
<path d="M446.4 667.6 L456.4 677.7 L446.4 687.8" fill="none" stroke="#121419" stroke-width="5.1" stroke-linejoin="miter" stroke-miterlimit="6"/>
<text x="341.2" y="716.2" font-size="28.6" font-weight="700" stroke="#121419" stroke-width="0.9" textLength="186" lengthAdjust="spacingAndGlyphs">DURABLE</text>
</g>
<g id="recycle" fill="#3e5053">
<g fill="none" stroke="#3e5053" stroke-width="4.5" stroke-linejoin="round">
<path d="M236.0 1348.2 L244.6 1334.4 Q247.4 1330.4 250.3 1334.4 L257.2 1346.4"/>
<path d="M261.6 1353.6 L269.6 1367.4 Q271.8 1372.4 266.6 1372.4 L252.5 1372.4"/>
<path d="M243.9 1372.4 L228.6 1372.4 Q223.2 1372.4 225.6 1367.4 L231.8 1356.6"/>
</g>
<path d="M260.8 1351.8 L252.6 1347.2 L261.0 1343.0 Z"/>
<path d="M246.4 1372.4 L253.8 1367.8 L253.8 1377.0 Z"/>
<path d="M235.3 1349.6 L235.2 1358.2 L227.0 1353.4 Z"/>
<text x="240.0" y="1362.7" font-size="12.8" font-weight="700" textLength="14.9" lengthAdjust="spacingAndGlyphs">05</text>
<text x="239.6" y="1389.1" font-size="12.3" stroke="#3e5053" stroke-width="0.3" textLength="16.6" lengthAdjust="spacingAndGlyphs">PP</text>
</g>
<text transform="translate(257.1 1602) rotate(-90)" font-size="28.6" font-weight="700" font-style="italic" fill="#36474b" textLength="58" lengthAdjust="spacingAndGlyphs">6797</text>
<text transform="translate(252.8 2310.2) rotate(-90)" font-size="13.6" fill="#8f9296" textLength="33.5" lengthAdjust="spacingAndGlyphs">37297</text>
<g id="icons">
<circle cx="442.9" cy="1642.55" r="60.7" fill="none" stroke="#8a8c8f" stroke-width="1.9"/>
<circle cx="442.9" cy="1784.85" r="60.7" fill="none" stroke="#8a8c8f" stroke-width="1.9"/>
<circle cx="442.9" cy="1926.65" r="60.7" fill="none" stroke="#8a8c8f" stroke-width="1.9"/>
<g class="ico">
<rect x="414.7" y="1605.7" width="56.8" height="43.7" rx="5.5" ry="5.5" stroke-width="3"/>
<path d="M414.7 1642.5 H471.5" stroke-width="2.8"/>
<path d="M435.4 1650.6 L433.3 1659.8 M450.4 1650.6 L452.8 1659.8" stroke-width="2.5"/>
<path d="M428 1660.7 H458.2" stroke-width="2.9"/>
</g>
<text x="406.8" y="1675.4" font-size="12.2" font-weight="700" fill="#8a8c8f" textLength="72.3" lengthAdjust="spacingAndGlyphs">www.duraprint.eu</text>
<g class="ico" stroke-width="2.6">
<rect x="428.6" y="1754" width="29.1" height="20.4"/>
<path d="M428.6 1766.5 H424.4 Q421.8 1766.5 420.6 1768.7 L412.6 1782 V1799 Q412.6 1802.8 416.4 1802.8 H426.4 M459.6 1802.8 H470.1 Q473.9 1802.8 473.9 1799 V1782 L465.9 1768.7 Q464.7 1766.5 462.1 1766.5 H457.7"/>
<path d="M412.6 1782 H473.9" stroke-width="2.8"/>
<path d="M429.6 1795 H457.4 L460.6 1814.8 H425.2 Z"/>
<path d="M436.6 1806.9 H449.2"/>
</g>
<circle cx="466.3" cy="1791.7" r="2.4" fill="#85878a"/>
<g class="ico" stroke-width="2.6">
<rect x="398.5" y="1908.5" width="31.8" height="38.3" rx="1.6" ry="1.6"/>
<path d="M414.2 1914.8 H422.8 M414.2 1921.2 H422.8 M414.2 1927.7 H422.8 M414.2 1934.1 H422.8 M414.2 1940.5 H422.8" stroke-width="2.4"/>
<path d="M435.4 1927.7 H449.4 M444.4 1922.4 L450.4 1927.7 L444.4 1933" stroke-width="2.4"/>
<rect x="455.8" y="1905.7" width="31.8" height="42.3" rx="2.2" ry="2.2"/>
<path d="M479.8 1947.6 V1919.4 Q479.8 1916 482.6 1914.6 L487.4 1912.2 M479.8 1926.5 L487.4 1923.2 M479.8 1936.9 L487.4 1933.7" stroke-width="2.2"/>
</g>
</g>
<g id="duraprint">
<rect x="351.5" y="2064.2" width="183.2" height="183.4" fill="none" stroke="#85878a" stroke-width="1.9"/>
<text x="364.6" y="2092.1" font-size="21.4" font-weight="700" fill="#808285" stroke="#808285" stroke-width="0.5" textLength="157.1" lengthAdjust="spacingAndGlyphs">DURAPRINT.EU</text>
<rect x="390.2" y="2121.1" width="105.6" height="67.4" rx="2" ry="2" fill="none" stroke="#808285" stroke-width="2.6"/>
<rect x="390.2" y="2179.3" width="105.6" height="9.6" fill="#808285"/>
<path d="M436.4 2189 H449.6 Q450.6 2194.8 454.4 2194.8 H475 V2198 H411.2 V2194.8 H431.6 Q435.4 2194.8 436.4 2189 Z" fill="#808285"/>
<rect x="414.4" y="2130.9" width="57.2" height="48.6" fill="none" stroke="#808285" stroke-width="1.4"/>
<path d="M443.1 2136 V2179 M417.2 2146.3 H439.8 M446.3 2146.3 H469 M417.2 2161 H439.8 M446.3 2161 H469 M417.2 2175.4 H439.8 M446.3 2175.4 H469" fill="none" stroke="#9a9c9f" stroke-width="1.1" stroke-dasharray="1.3 1.1"/>
<text x="365.2" y="2236.3" font-size="10.5" fill="#85878a" stroke="#85878a" stroke-width="0.25" textLength="155.8" lengthAdjust="spacing">BROWSER BASED PRINTING</text>
</g>
</svg>
</body>
</html>
